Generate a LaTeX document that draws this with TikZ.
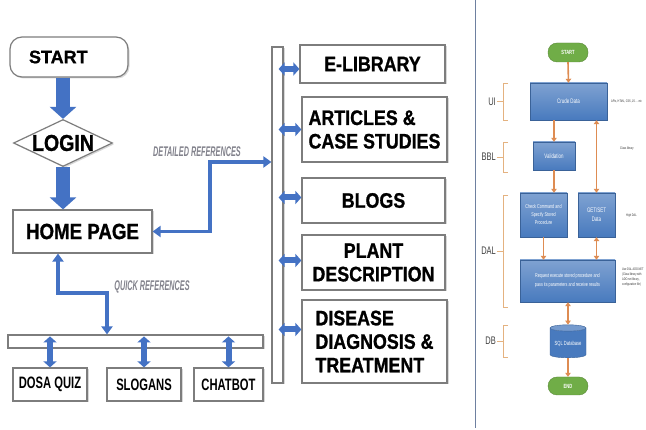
\documentclass[tikz,border=0pt]{standalone}
\usepackage{fontspec}
\setmainfont{Liberation Sans}[BoldFeatures={FakeBold=0.8}]
\newfontfamily\narrowfont{Liberation Sans}[FakeStretch=0.85,BoldFeatures={FakeBold=1}]
\newfontfamily\slimfont{Liberation Sans}[FakeStretch=0.68]
\newfontfamily\reffont{Liberation Sans}[FakeStretch=0.52]
\usetikzlibrary{arrows.meta,shapes.geometric,shadows}
\definecolor{linkblue}{RGB}{68,114,196}
\definecolor{boxgray}{RGB}{125,125,125}
\definecolor{flowblue}{RGB}{72,122,190}
\definecolor{floworange}{RGB}{222,140,82}
\definecolor{flowgreen}{RGB}{112,173,71}
\definecolor{tiercolor}{RGB}{228,178,128}
\definecolor{refgray}{RGB}{130,130,140}
\definecolor{rulecolor}{RGB}{110,128,160}

\begin{document}
\begin{tikzpicture}[x=1pt,y=-1pt,
        box/.style={draw=boxgray,line width=1.2pt,fill=white,inner sep=0pt,
            drop shadow={shadow xshift=1.5pt,shadow yshift=-1.5pt,opacity=.3}},
        menubox/.style={box,font=\narrowfont\bfseries\fontsize{21}{23.5}\selectfont},
        toolbox/.style={box,font=\slimfont\bfseries\fontsize{16.5}{18}\selectfont},
        bigarrow/.style={draw=linkblue,line width=14pt,-{Triangle[length=12pt,width=26pt]}},
        dblarrow/.style={draw=linkblue,line width=6pt,
            {Triangle[length=6pt,width=13pt]}-{Triangle[length=6pt,width=13pt]}},
        reflink/.style={draw=linkblue,line width=3.5pt,
            {Triangle[length=8pt,width=11pt]}-{Triangle[length=8pt,width=11pt]}},
        reflabel/.style={text=refgray,font=\reffont\bfseries\itshape\fontsize{14}{16}\selectfont},
        flowbox/.style={draw=flowblue!80!black,line width=.4pt,top color=flowblue!70!white,
            bottom color=flowblue,text=white,align=center,inner sep=1pt,
            font=\slimfont\fontsize{6.5}{9}\selectfont},
        pill/.style={rounded corners=9pt,fill=flowgreen,draw=flowgreen!80!black,text=white,
            minimum width=40pt,minimum height=19pt,font=\slimfont\bfseries\fontsize{6}{7}\selectfont},
        flowarrow/.style={draw=floworange,line width=1.6pt,-{Triangle[length=4pt,width=5.5pt]}},
        flowdbl/.style={flowarrow,{Triangle[length=4pt,width=5.5pt]}-{Triangle[length=4pt,width=5.5pt]}},
        note/.style={text=black!80,align=left,anchor=west,inner sep=0pt,
            font=\slimfont\fontsize{3.6}{4.8}\selectfont},
        tier/.style={draw=tiercolor,line width=.8pt},
        tierlabel/.style={text=black!75,anchor=east,inner sep=1pt,font=\slimfont\fontsize{11}{12}\selectfont}]
    \fill[white] (0,0) rectangle (646,430);
    \useasboundingbox (0,0) rectangle (646,430);

    \node[box,rounded corners=12pt,minimum width=118pt,minimum height=40pt,
        font=\bfseries\fontsize{18}{20}\selectfont] (start) at (69,57) {\makebox[80pt][l]{START}};
    \node[box,diamond,aspect=2.1,minimum width=99pt,minimum height=47pt,
        font=\narrowfont\bfseries\fontsize{23}{25}\selectfont] (login) at (63,143) {LOGIN};
    \node[box,minimum width=139pt,minimum height=43pt,
        font=\narrowfont\bfseries\fontsize{22}{24}\selectfont] (home) at (82.5,231.5) {HOME PAGE};
    \draw[bigarrow] (start.south -| login.north) -- (login.north);
    \draw[bigarrow] (login.south) -- (login.south |- home.north);

    \node[box,minimum width=11pt,minimum height=336pt] (bar) at (277.5,215) {};
    \node[menubox,minimum width=145pt,minimum height=38pt] (elib) at (372.5,64) {E-LIBRARY};
    \node[menubox,minimum width=145pt,minimum height=65pt,align=left] (arts) at (374.5,129.5)
        {ARTICLES \&\\CASE STUDIES};
    \node[menubox,minimum width=143pt,minimum height=45pt] (blogs) at (373.5,200.5) {BLOGS};
    \node[menubox,minimum width=143pt,minimum height=55pt,align=center] (plant) at (373.5,262.5)
        {PLANT\\DESCRIPTION};
    \node[menubox,minimum width=145pt,minimum height=83pt,align=left] (disease) at (374.5,341.5)
        {DISEASE\\DIAGNOSIS \&\\TREATMENT};
    \draw[dblarrow,shorten <=-5pt] (bar.east |- elib.west) ++(0,5) -- ([yshift=-5pt]elib.west);
    \draw[dblarrow,shorten <=-5pt] (bar.east |- arts.west) -- (arts.west);
    \draw[dblarrow,shorten <=-5pt] (bar.east |- blogs.west) ++(0,-3) -- ([yshift=3pt]blogs.west);
    \draw[dblarrow,shorten <=-5pt] (bar.east |- plant.west) ++(0,-2) -- ([yshift=2pt]plant.west);
    \draw[dblarrow,shorten <=-5pt] (bar.east |- disease.west) ++(0,-12) -- ([yshift=12pt]disease.west);

    \coordinate (detbend) at (210,162);
    \draw[reflink] (home.east) -| (detbend) -- (detbend -| bar.west);
    \node[reflabel] (detlabel) at (197,152) {DETAILED REFERENCES};

    \node[box,minimum width=255pt,minimum height=13pt] (toolbar) at (135.5,341.5) {};
    \node[toolbox,minimum width=74pt,minimum height=33pt] (quiz) at (50,384.5) {DOSA QUIZ};
    \node[toolbox,minimum width=74pt,minimum height=33pt] (slogans) at (144,384.5) {SLOGANS};
    \node[toolbox,minimum width=69pt,minimum height=33pt] (chatbot) at (228.5,384.5) {CHATBOT};
    \foreach \tool in {quiz,slogans,chatbot}
        \draw[dblarrow,shorten <=2pt] (toolbar.north -| \tool.north) -- (\tool.north);

    \coordinate (qbend) at (58,293);
    \coordinate (qturn) at (107,293);
    \draw[reflink] (qbend |- home.south) -- (qbend) -- (qturn) -- (qturn |- toolbar.north);
    \node[reflabel] (quicklabel) at (152,287) {QUICK REFERENCES};

    \draw[rulecolor,line width=1pt] (475,0) -- (475,428);

    \node[pill] (fstart) at (568,52.5) {START};
    \node[flowbox,minimum width=77pt,minimum height=37pt] (crude) at (568.5,101.5) {Crude Data};
    \node[flowbox,minimum width=42pt,minimum height=28pt] (valid) at (554,156) {Validation};
    \node[flowbox,minimum width=47pt,minimum height=44pt,font=\slimfont\fontsize{5.5}{8}\selectfont] (check) at (543.5,215)
        {Check Command and\\Specify Stored\\Procedure};
    \node[flowbox,minimum width=37pt,minimum height=44pt] (getset) at (596.5,215) {GET/SET\\Data};
    \node[flowbox,minimum width=95pt,minimum height=42pt,font=\slimfont\fontsize{5.5}{9}\selectfont] (request) at (567.5,281)
        {Request execute stored procedure and\\pass its parameters and receive results};
    \node[cylinder,shape border rotate=90,aspect=.22,draw=flowblue!80!black,line width=.4pt,
        cylinder uses custom fill,cylinder body fill=flowblue,cylinder end fill=flowblue!75!white,
        minimum width=36pt,minimum height=33pt,inner sep=1pt,text=white,
        font=\slimfont\fontsize{6}{7}\selectfont] (sqldb) at (568,343.5) {SQL Database};
    \node[pill,minimum height=18pt] (fend) at (568,386) {END};

    \draw[flowarrow] (fstart.south) -- (crude.north);
    \draw[flowarrow] (valid.north |- crude.south) -- (valid.north);
    \draw[flowarrow] (valid.south) -- (valid.south |- check.north);
    \draw[flowdbl] (getset.north) -- (getset.north |- crude.south);
    \draw[flowarrow] (check.south) -- (check.south |- request.north);
    \draw[flowdbl] (getset.south) -- (getset.south |- request.north);
    \draw[flowdbl] (request.south -| sqldb.north) -- (sqldb.north);
    \draw[flowarrow] (sqldb.south) -- (fend.north);

    \node[note] (apinote) at (611,101) {APIs, HTML, CSS, JS ... etc};
    \node[note] (classnote) at (620,149) {Class library};
    \node[note] (dalnote) at (626,216) {High DAL};
    \node[note] (adonote) at (622,277) {Use DAL ADO.NET\\(Class library with\\ADO.net library,\\configuration file)};

    \foreach \tiertop/\tierbot/\tiername in {83/120/UI,142/172/BBL,195/307/DAL,325/357/DB} {
        \pgfmathsetmacro\tiermid{(\tiertop+\tierbot)/2}
        \draw[tier] (508,\tiertop) -- (503,\tiertop) -- (503,\tierbot) -- (508,\tierbot);
        \node[tierlabel] (tier\tiername) at (497,\tiermid) {\tiername};
        \draw[tier] (tier\tiername.east) -- (503,\tiermid);
    }
\end{tikzpicture}
\end{document}
